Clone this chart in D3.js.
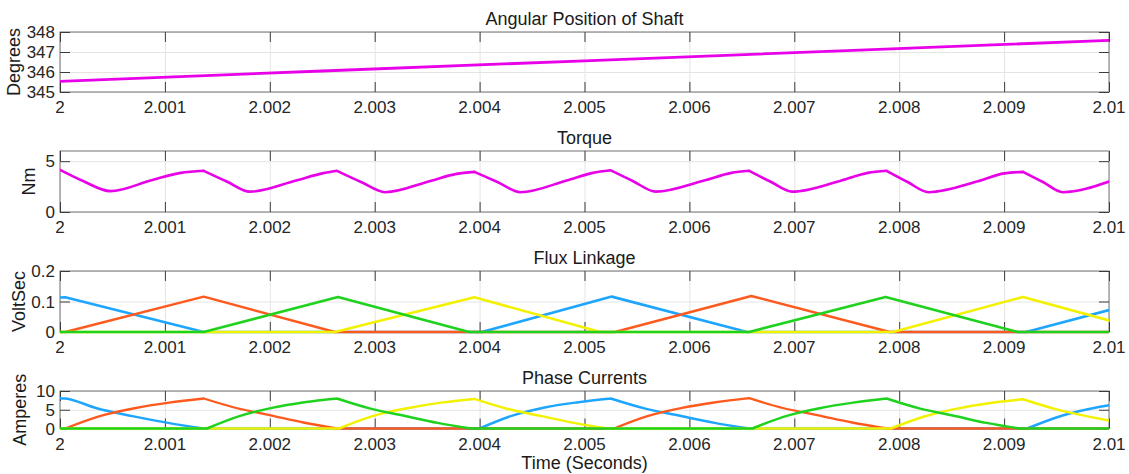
<!DOCTYPE html>
<html>
<head>
<meta charset="utf-8">
<script src="https://cdn.jsdelivr.net/npm/d3@7/dist/d3.min.js"></script>
<style>
  html, body { margin: 0; padding: 0; background: #fff; }
  svg { display: block; font-family: "Liberation Sans", Arial, Helvetica, sans-serif; }
</style>
</head>
<body>
<svg id="chart" width="1129" height="474"></svg>
<script>
// ---- data -------------------------------------------------------------
const timeTicks = [2, 2.001, 2.002, 2.003, 2.004, 2.005, 2.006, 2.007, 2.008, 2.009, 2.01];
const timeTickLabels = ["2", "2.001", "2.002", "2.003", "2.004", "2.005", "2.006", "2.007", "2.008", "2.009", "2.01"];

const angleTicks = [345, 346, 347, 348];
const torqueTicks = [0, 5];
const fluxTicks = [0, 0.1, 0.2];
const fluxTickLabels = ["0", "0.1", "0.2"];
const currentTicks = [0, 5, 10];

// shaft angle (deg) vs time (s)
const shaftAngle = [
  [2.0, 345.53], [2.0025, 346.05], [2.005, 346.56], [2.0075, 347.07], [2.01, 347.58]
];

// electromagnetic torque (Nm)
const torque = [
  [2.00000, 4.15], [2.00022, 3.05], [2.00048, 2.05], [2.00088, 3.15], [2.00115, 3.85], [2.00137, 4.05],
  [2.00159, 3.00], [2.00181, 2.00], [2.00225, 3.10], [2.00250, 3.80], [2.00264, 4.05],
  [2.00287, 2.95], [2.00310, 1.95], [2.00353, 3.05], [2.00378, 3.75], [2.00395, 3.95],
  [2.00417, 2.95], [2.00439, 1.95], [2.00483, 3.10], [2.00508, 3.85], [2.00525, 4.10],
  [2.00546, 3.05], [2.00568, 2.00], [2.00614, 3.10], [2.00640, 3.85], [2.00657, 4.05],
  [2.00677, 3.00], [2.00698, 2.00], [2.00745, 3.10], [2.00770, 3.85], [2.00788, 4.05],
  [2.00808, 2.95], [2.00828, 1.95], [2.00876, 3.05], [2.00900, 3.80], [2.00918, 3.95],
  [2.00937, 2.95], [2.00956, 1.95], [2.01000, 3.00]
];

// flux linkage per phase (V·s)
const fluxA = [[2.0, 0.113], [2.00005, 0.114], [2.00137, 0], [2.00402, 0], [2.00526, 0.116], [2.00655, 0], [2.00921, 0], [2.01, 0.072]];
const fluxB = [[2.0, 0], [2.00005, 0], [2.00137, 0.116], [2.00262, 0], [2.00529, 0], [2.00659, 0.118], [2.00791, 0], [2.01, 0]];
const fluxC = [[2.0, 0], [2.00137, 0], [2.00265, 0.115], [2.00390, 0], [2.00657, 0], [2.00787, 0.115], [2.00913, 0], [2.01, 0]];
const fluxD = [[2.0, 0], [2.00262, 0], [2.00395, 0.114], [2.00515, 0], [2.00794, 0], [2.00918, 0.115], [2.01, 0.038]];

// phase currents (A)
const currentA = [
  [2.0, 8.1], [2.00005, 8.0], [2.00035, 5.4], [2.00069, 3.3], [2.00103, 1.5], [2.00137, 0],
  [2.00400, 0], [2.00432, 3.5], [2.00462, 5.6], [2.00494, 7.0], [2.00525, 8.0],
  [2.00558, 5.3], [2.00591, 3.4], [2.00624, 1.5], [2.00657, 0],
  [2.00922, 0], [2.00955, 3.4], [2.00988, 5.6], [2.01, 6.2]
];
const currentB = [
  [2.0, 0], [2.00005, 0], [2.00038, 3.3], [2.00071, 5.4], [2.00104, 6.9], [2.00137, 8.0],
  [2.00169, 5.4], [2.00201, 3.5], [2.00232, 1.6], [2.00264, 0],
  [2.00528, 0], [2.00560, 3.3], [2.00593, 5.5], [2.00625, 7.0], [2.00657, 8.1],
  [2.00690, 5.4], [2.00723, 3.5], [2.00755, 1.6], [2.00788, 0], [2.01, 0]
];
const currentC = [
  [2.0, 0], [2.00140, 0], [2.00171, 3.3], [2.00202, 5.5], [2.00233, 7.0], [2.00264, 8.0],
  [2.00296, 5.3], [2.00328, 3.4], [2.00360, 1.5], [2.00392, 0],
  [2.00660, 0], [2.00692, 3.3], [2.00724, 5.4], [2.00756, 6.9], [2.00788, 8.0],
  [2.00820, 5.3], [2.00852, 3.4], [2.00883, 1.5], [2.00915, 0], [2.01, 0]
];
const currentD = [
  [2.0, 0], [2.00266, 0], [2.00298, 3.3], [2.00331, 5.4], [2.00363, 6.9], [2.00395, 7.9],
  [2.00427, 5.2], [2.00459, 3.3], [2.00490, 1.5], [2.00522, 0],
  [2.00792, 0], [2.00824, 3.2], [2.00855, 5.3], [2.00887, 6.8], [2.00918, 7.8],
  [2.00950, 5.1], [2.00982, 3.1], [2.01, 2.1]
];

// ---- styling ----------------------------------------------------------
const C_MAGENTA = "#e800e8";
const C_BLUE = "#1ea6ff";
const C_ORANGE = "#ff5a1e";
const C_GREEN = "#1ed21e";
const C_YELLOW = "#f2f200";

// Split a series into pieces at corner points so each piece can be smoothed
// on its own while the corners stay sharp.
function splitAt(data, isCorner) {
  const pieces = [];
  let cur = [data[0]];
  for (let i = 1; i < data.length; i++) {
    cur.push(data[i]);
    if (i < data.length - 1 && isCorner(data, i)) {
      pieces.push(cur);
      cur = [data[i]];
    }
  }
  pieces.push(cur);
  return pieces;
}
const slopeSign = (a, b) => Math.sign(b[1] - a[1]);
// any change of direction (including joining a flat run)
const anyTurn = (d, i) => slopeSign(d[i - 1], d[i]) !== slopeSign(d[i], d[i + 1]);
// only local maxima
const peakOnly = (d, i) => d[i][1] > d[i - 1][1] && d[i][1] > d[i + 1][1];

const svg = d3.select("#chart");
const left = 60, right = 1109;
const tickLen = 10;

const x = d3.scaleLinear().domain([2, 2.01]).range([left, right]);

const panels = [
  { title: "Angular Position of Shaft", ylabel: "Degrees", top: 32, bottom: 92, domain: [345, 348],
    ticks: angleTicks, tickLabels: angleTicks.map(String), labelX: 20,
    series: [{ data: shaftAngle, color: C_MAGENTA, width: 2.8 }] },
  { title: "Torque", ylabel: "Nm", top: 151, bottom: 212, domain: [0, 6],
    ticks: torqueTicks, tickLabels: torqueTicks.map(String), labelX: 35,
    series: [{ data: torque, color: C_MAGENTA, width: 2.6, smooth: peakOnly }] },
  { title: "Flux Linkage", ylabel: "VoltSec", top: 271, bottom: 332, domain: [0, 0.2],
    ticks: fluxTicks, tickLabels: fluxTickLabels, labelX: 25,
    series: [
      { data: fluxA, color: C_BLUE, width: 2.6 },
      { data: fluxB, color: C_ORANGE, width: 2.4 },
      { data: fluxD, color: C_YELLOW, width: 2.6 },
      { data: fluxC, color: C_GREEN, width: 2.6 }
    ] },
  { title: "Phase Currents", ylabel: "Amperes", top: 391, bottom: 428.5, domain: [0, 10],
    ticks: currentTicks, tickLabels: currentTicks.map(String), labelX: 26,
    series: [
      { data: currentA, color: C_BLUE, width: 2.5, smooth: anyTurn },
      { data: currentB, color: C_ORANGE, width: 2.3, smooth: anyTurn },
      { data: currentD, color: C_YELLOW, width: 2.5, smooth: anyTurn },
      { data: currentC, color: C_GREEN, width: 2.5, smooth: anyTurn }
    ] }
];

panels.forEach(p => {
  const h = p.bottom - p.top;
  const y = d3.scaleLinear().domain(p.domain).range([p.bottom, p.top]);
  const g = svg.append("g");

  // grid
  g.append("g")
    .attr("transform", `translate(0,${p.bottom})`)
    .call(d3.axisBottom(x).tickValues(timeTicks).tickSize(-h).tickFormat(""))
    .call(s => s.select(".domain").remove())
    .call(s => s.selectAll("line").attr("stroke", "#e4e4e4").attr("stroke-width", 1));
  g.append("g")
    .attr("transform", `translate(${left},0)`)
    .call(d3.axisLeft(y).tickValues(p.ticks).tickSize(-(right - left)).tickFormat(""))
    .call(s => s.select(".domain").remove())
    .call(s => s.selectAll("line").attr("stroke", "#e4e4e4").attr("stroke-width", 1));

  // box
  g.append("rect")
    .attr("x", left).attr("y", p.top)
    .attr("width", right - left).attr("height", h)
    .attr("fill", "none").attr("stroke", "#8a8a8a").attr("stroke-width", 1.2);

  // inward ticks
  const tickStyle = s => {
    s.select(".domain").remove();
    s.selectAll("line").attr("stroke", "#3c3c3c").attr("stroke-width", 1);
  };
  g.append("g").attr("transform", `translate(0,${p.bottom})`)
    .call(d3.axisBottom(x).tickValues(timeTicks).tickSize(-tickLen).tickFormat(""))
    .call(tickStyle);
  g.append("g").attr("transform", `translate(0,${p.top})`)
    .call(d3.axisTop(x).tickValues(timeTicks).tickSize(-tickLen).tickFormat(""))
    .call(tickStyle);
  g.append("g").attr("transform", `translate(${left},0)`)
    .call(d3.axisLeft(y).tickValues(p.ticks).tickSize(-tickLen).tickFormat(""))
    .call(tickStyle);
  g.append("g").attr("transform", `translate(${right},0)`)
    .call(d3.axisRight(y).tickValues(p.ticks).tickSize(-tickLen).tickFormat(""))
    .call(tickStyle);

  // data
  const clipId = "clip-" + p.ylabel;
  svg.append("clipPath").attr("id", clipId)
    .append("rect").attr("x", left).attr("y", p.top - 2).attr("width", right - left).attr("height", h + 4);
  const straight = d3.line().x(d => x(d[0])).y(d => y(d[1]));
  const smooth = d3.line().x(d => x(d[0])).y(d => y(d[1])).curve(d3.curveMonotoneX);
  const lines = g.append("g").attr("clip-path", `url(#${clipId})`);
  p.series.forEach(s => {
    const d = s.smooth
      ? splitAt(s.data, s.smooth).map(piece => smooth(piece)).join("")
      : straight(s.data);
    lines.append("path")
      .attr("d", d)
      .attr("fill", "none")
      .attr("stroke", s.color)
      .attr("stroke-width", s.width)
      .attr("stroke-linejoin", "round")
      .attr("stroke-linecap", "round");
  });

  // tick labels
  g.selectAll(".xl").data(timeTicks).enter().append("text")
    .attr("x", d => x(d)).attr("y", p.bottom + 21)
    .attr("text-anchor", "middle")
    .attr("font-size", 17).attr("fill", "#262626")
    .text((d, i) => timeTickLabels[i]);
  g.selectAll(".yl").data(p.ticks).enter().append("text")
    .attr("x", left - 5).attr("y", d => y(d))
    .attr("dy", "0.36em")
    .attr("text-anchor", "end")
    .attr("font-size", 17).attr("fill", "#262626")
    .text((d, i) => p.tickLabels[i]);

  // title and y label
  g.append("text")
    .attr("x", (left + right) / 2).attr("y", p.top - 7)
    .attr("text-anchor", "middle")
    .attr("font-size", 18).attr("fill", "#1a1a1a")
    .text(p.title);
  g.append("text")
    .attr("transform", `translate(${p.labelX},${(p.top + p.bottom) / 2}) rotate(-90)`)
    .attr("text-anchor", "middle")
    .attr("font-size", 18).attr("fill", "#1a1a1a")
    .text(p.ylabel);
});

svg.append("text")
  .attr("x", (left + right) / 2).attr("y", 469)
  .attr("text-anchor", "middle")
  .attr("font-size", 18).attr("fill", "#1a1a1a")
  .text("Time (Seconds)");
</script>
</body>
</html>
